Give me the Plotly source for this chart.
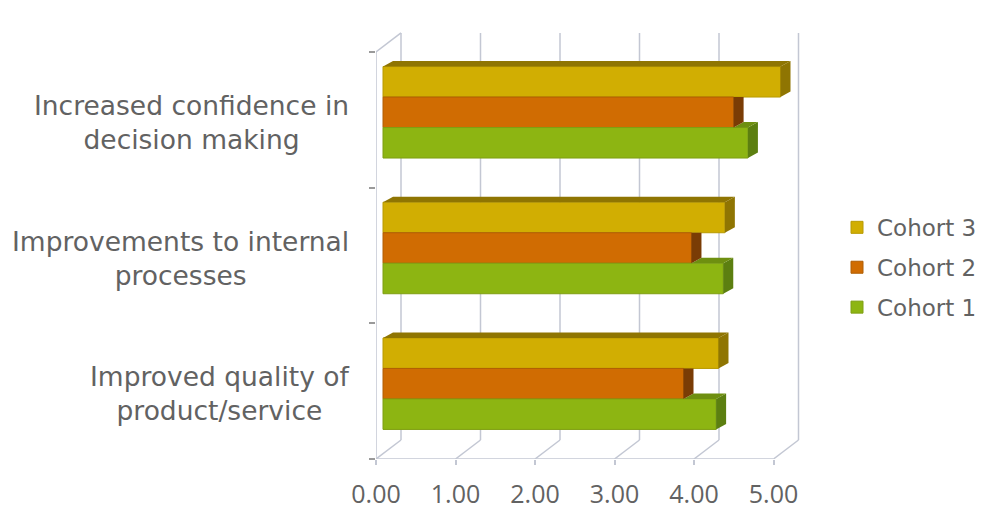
import plotly.graph_objects as go

categories = ["Improved quality of<br>product/service",
              "Improvements to internal<br>processes",
              "Increased confidence in<br>decision making"]
cohort_1 = [4.19, 4.28, 4.59]
cohort_2 = [3.78, 3.88, 4.41]
cohort_3 = [4.22, 4.30, 5.00]
x_ticks = [0, 1, 2, 3, 4, 5]
y_ticks = [0, 1, 2, 3]

# pixel scale of the plot area, used to express the 3D depth in data units
PLOT_W, PLOT_H = 609, 429
PX_X = 79.5
PX_Y = 135.7
WALL_DX, WALL_DY = 25 / PX_X, 19 / PX_Y      # floor depth of the box
BASE = 7 / PX_X                              # bars start part way into the box
BAR_H = 30.5 / PX_Y
BAR_DX, BAR_DY = 10 / PX_X, 5.5 / PX_Y       # depth of each bar
GRID = "#C3C7D3"
TEXT = "#626262"
FONT = "DejaVu Sans"

series = [
    ("Cohort 1", cohort_1, 0.555 - BAR_H, "#8DB512", "#5C7F10", "#6E8F10", "#7F9F12"),
    ("Cohort 2", cohort_2, 0.555, "#D06C02", "#7A3C05", "#9A5200", "#B05E04"),
    ("Cohort 3", cohort_3, 0.555 + BAR_H, "#D1AE02", "#8F7502", "#8F7502", "#B89A02"),
]

fig = go.Figure()

# front faces, topmost series first so the legend reads downward from Cohort 3
for name, vals, off, col, _, _, edge in reversed(series):
    fig.add_bar(
        name=name, orientation="h", legendgroup=name,
        y=[i + off for i in range(len(vals))],
        x=vals, base=BASE, width=BAR_H,
        marker=dict(color=col, line=dict(color=edge, width=1)),
    )

# side and top faces, each cut where the next bar up would hide it
for s, (name, vals, off, col, side, top, _) in enumerate(series):
    above = series[s + 1][1] if s + 1 < len(series) else None
    for i, v in enumerate(vals):
        y0 = i + off - BAR_H / 2
        y1 = i + off + BAR_H / 2
        end = BASE + v
        hidden = above is not None and above[i] > v
        xs = [end, end + BAR_DX, end + BAR_DX, end]
        ys = [y0, y0 + BAR_DY, y1 if hidden else y1 + BAR_DY, y1]
        fig.add_scatter(x=xs, y=ys, fill="toself", fillcolor=side, mode="none",
                        showlegend=False, hoverinfo="skip")
        start = BASE if above is None else BASE + above[i]
        if start < end:
            fig.add_scatter(
                x=[start, start + BAR_DX, end + BAR_DX, end],
                y=[y1, y1 + BAR_DY, y1 + BAR_DY, y1],
                fill="toself", fillcolor=top, mode="none",
                showlegend=False, hoverinfo="skip")

# box wireframe behind the bars
y_top = y_ticks[-1]
shapes = []
def seg(x0, y0, x1, y1):
    shapes.append(dict(type="line", layer="below", xref="x", yref="y",
                       x0=x0, y0=y0, x1=x1, y1=y1,
                       line=dict(color=GRID, width=1.5)))
for t in x_ticks:
    seg(t + WALL_DX, WALL_DY, t + WALL_DX, y_top + WALL_DY)
    seg(t, 0, t + WALL_DX, WALL_DY)
seg(x_ticks[0], 0, x_ticks[-1], 0)
seg(0, 0, 0, y_top)
seg(0, y_top, WALL_DX, y_top + WALL_DY)

annotations = [
    dict(text=c, xref="paper", yref="y", x=-25 / PLOT_W, y=i + 0.48,
         xanchor="right", yanchor="middle", align="center", showarrow=False,
         font=dict(size=26.5, color=TEXT, family=FONT))
    for i, c in enumerate(categories)
]

fig.update_layout(
    width=985, height=517, margin=dict(l=376, r=0, t=30, b=58),
    paper_bgcolor="white", plot_bgcolor="white",
    barmode="overlay", shapes=shapes, annotations=annotations,
    font=dict(family=FONT, color=TEXT),
    xaxis=dict(range=[0, PLOT_W / PX_X], tickvals=x_ticks, tickformat=".2f",
               showgrid=False, zeroline=False, showline=False,
               ticks="outside", ticklen=5, tickcolor=GRID, tickwidth=1.5,
               ticklabelstandoff=8,
               tickfont=dict(size=25, color=TEXT, family="Open Sans"),
               fixedrange=True),
    yaxis=dict(range=[0, PLOT_H / PX_Y], tickvals=y_ticks, showticklabels=False,
               showgrid=False, zeroline=False, showline=False,
               ticks="outside", ticklen=6, tickcolor="#9A9A9A", tickwidth=1.5,
               fixedrange=True),
    legend=dict(x=(837 - 376) / PLOT_W, y=0.59, xref="paper", yref="paper",
                xanchor="left", yanchor="top", traceorder="grouped",
                tracegroupgap=7, font=dict(size=23, color=TEXT), itemwidth=30,
                bgcolor="rgba(0,0,0,0)"),
)
fig.write_html("out.html")
